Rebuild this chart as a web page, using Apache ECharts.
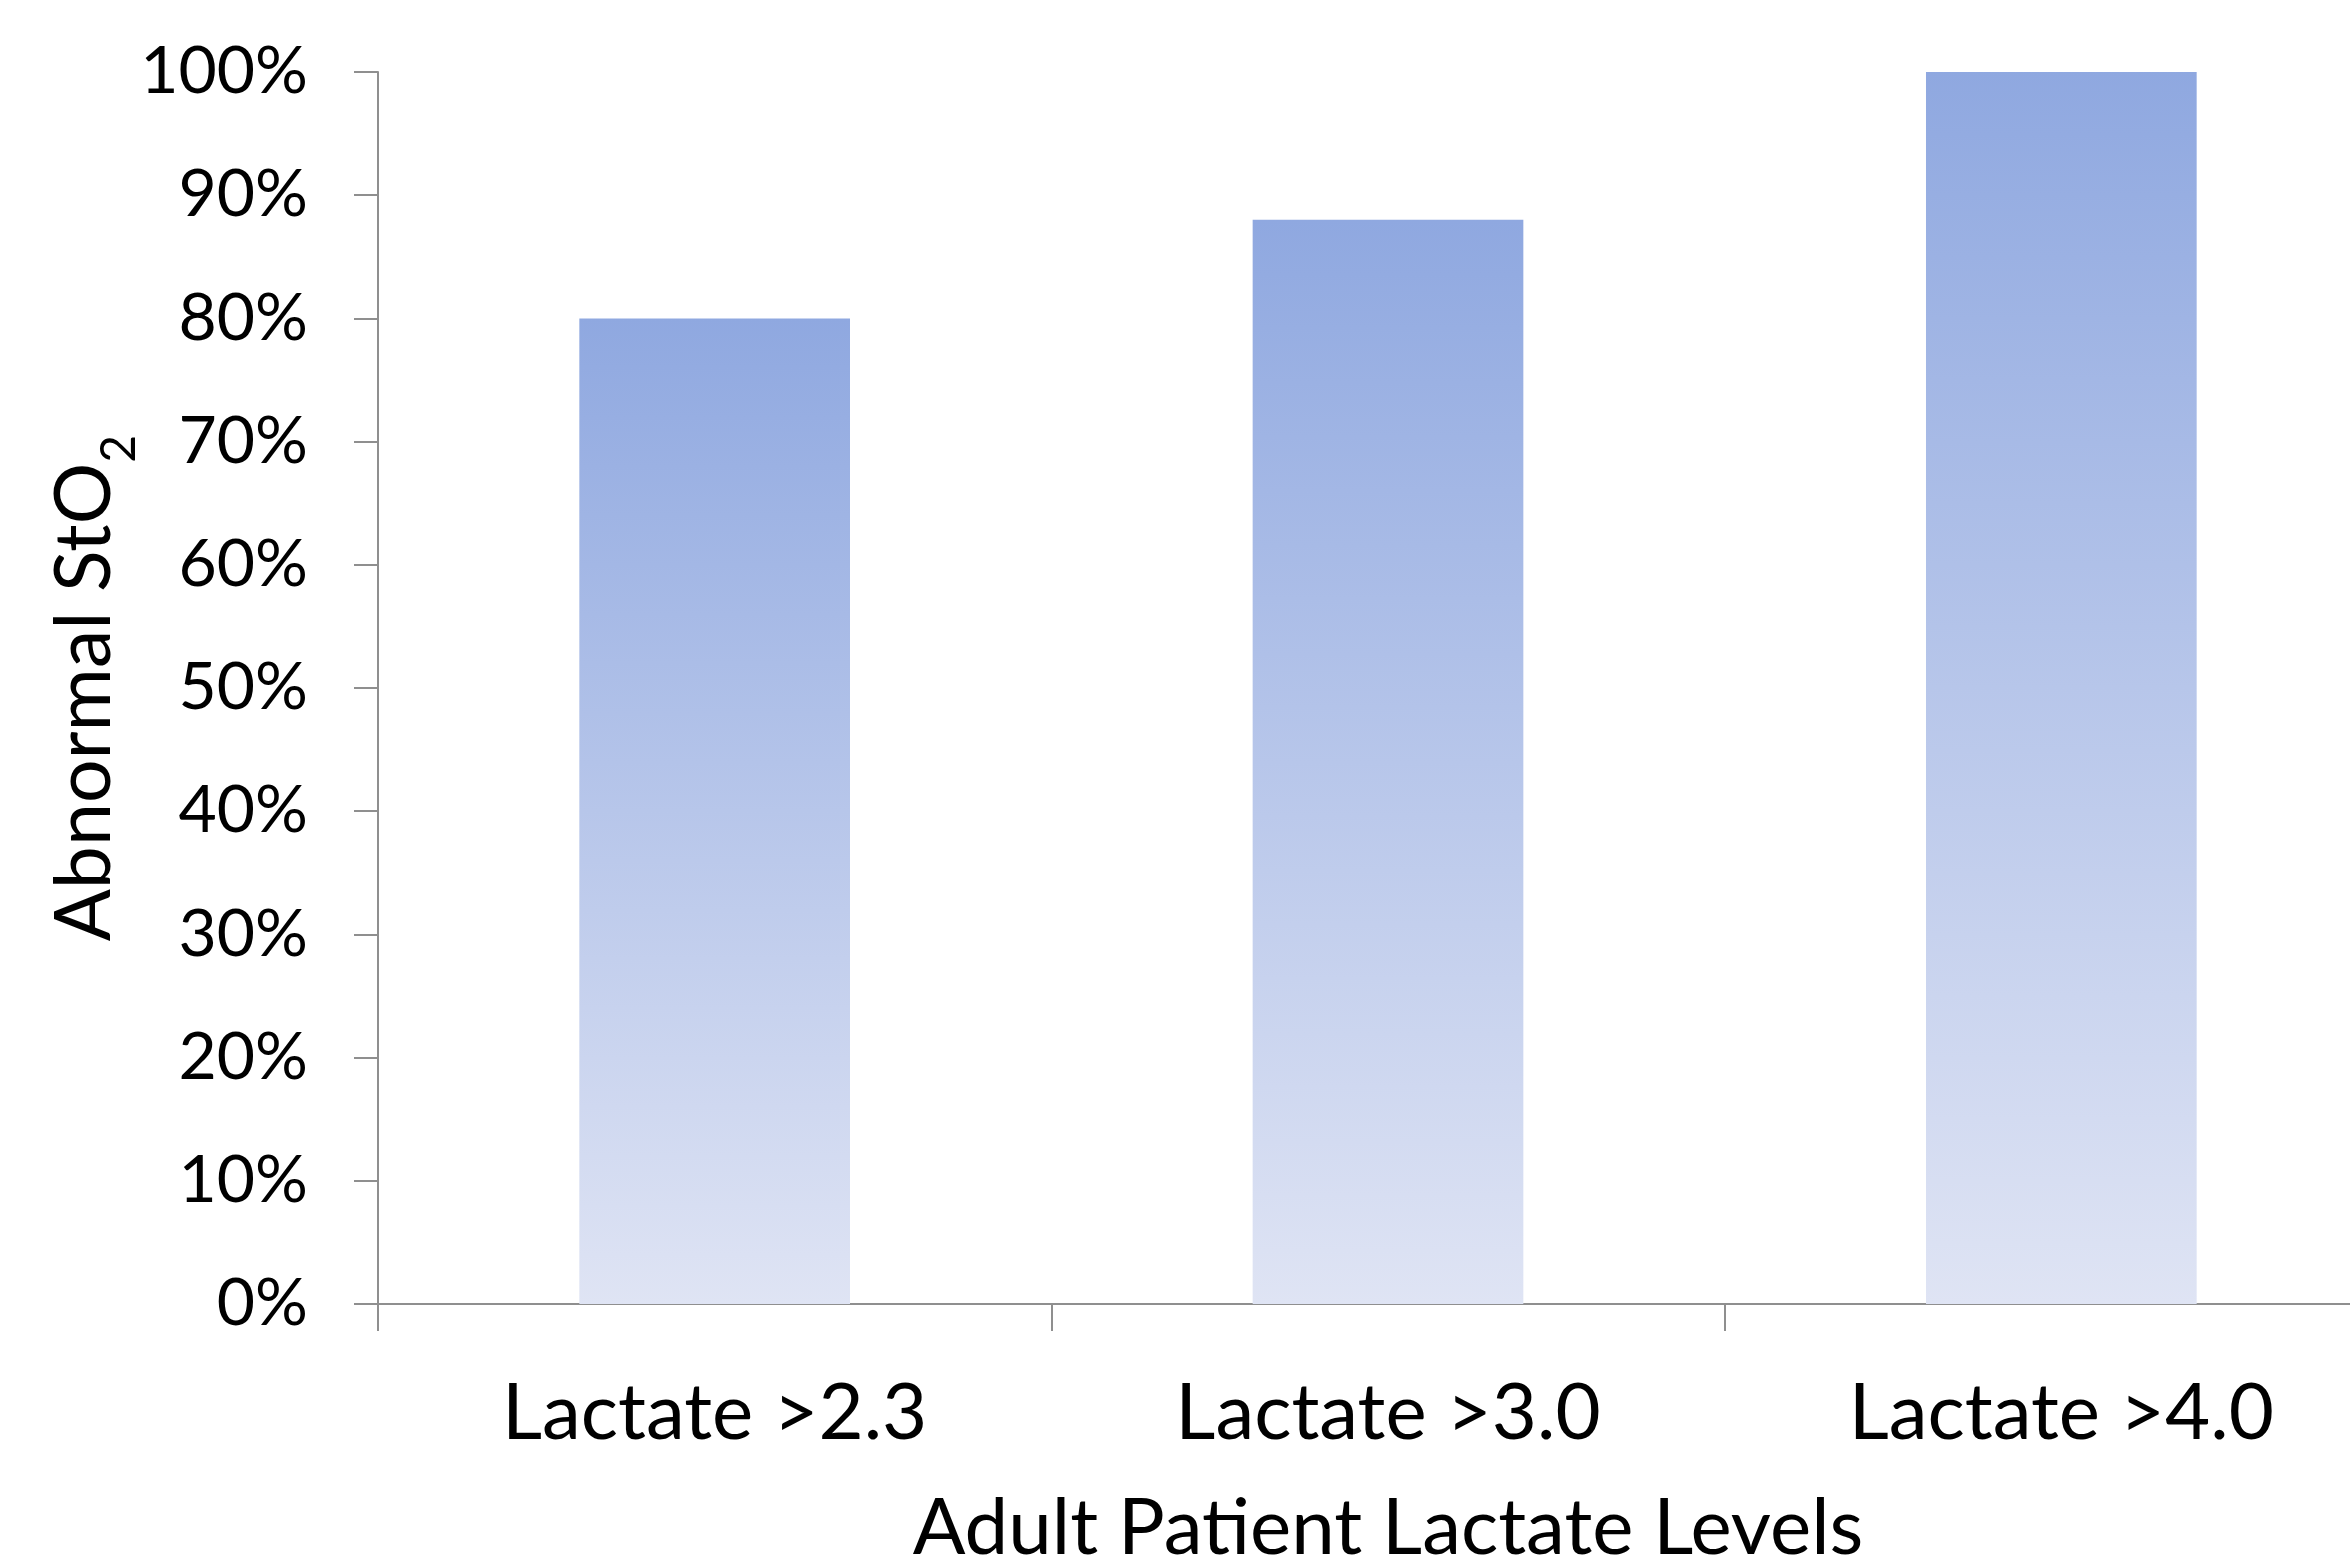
<!DOCTYPE html>
<html>
<head>
<meta charset="utf-8">
<script src="https://cdn.jsdelivr.net/npm/echarts@6/dist/echarts.min.js"></script>
<style>
  html, body { margin: 0; padding: 0; background: #ffffff; }
  #chart { width: 2350px; height: 1556px; }
</style>
</head>
<body>
<div id="chart"></div>
<script>
const categories = ['Lactate >2.3', 'Lactate >3.0', 'Lactate >4.0'];
const abnormalSto2 = [0.80, 0.88, 1.00];
const yTicks = [0, 0.1, 0.2, 0.3, 0.4, 0.5, 0.6, 0.7, 0.8, 0.9, 1.0];
const xTitle = 'Adult Patient Lactate Levels';
const yTitleMain = 'Abnormal StO';
const yTitleSub = '2';

const FONT = 'Lato';
const axisColor = '#8f8f8f';

const chart = echarts.init(document.getElementById('chart'), null, { renderer: 'canvas' });
chart.setOption({
  animation: false,
  backgroundColor: '#ffffff',
  grid: { left: 378, top: 72, right: -48, bottom: 252, containLabel: false, outerBoundsMode: 'none' },
  xAxis: {
    type: 'category',
    data: categories,
    boundaryGap: true,
    nameMoveOverlap: false,
    axisLine: { show: true, lineStyle: { color: axisColor, width: 2 } },
    axisTick: { show: true, inside: false, length: 27, alignWithLabel: false, lineStyle: { color: axisColor, width: 2 } },
    axisLabel: { color: '#000', fontFamily: FONT, fontSize: 78, margin: 71, interval: 0 },
    name: xTitle,
    nameLocation: 'middle',
    nameGap: 186,
    nameTextStyle: { color: '#000', fontFamily: FONT, fontSize: 78 }
  },
  yAxis: {
    type: 'value',
    min: yTicks[0],
    max: yTicks[yTicks.length - 1],
    interval: 0.1,
    nameMoveOverlap: false,
    splitLine: { show: false },
    axisLine: { show: true, lineStyle: { color: axisColor, width: 2 } },
    axisTick: { show: true, inside: false, length: 24, lineStyle: { color: axisColor, width: 2 } },
    axisLabel: {
      color: '#000', fontFamily: FONT, fontSize: 66, margin: 70,
      formatter: v => Math.round(v * 100) + '%'
    },
    name: '{m|' + yTitleMain + '}{s|' + yTitleSub + '}',
    nameLocation: 'middle',
    nameGap: 254,
    nameRotate: 90,
    nameTextStyle: {
      color: '#000',
      rich: {
        m: { fontFamily: FONT, fontSize: 77, color: '#000' },
        s: { fontFamily: FONT, fontSize: 48, color: '#000', verticalAlign: 'bottom', padding: [0, 0, -20, 0] }
      }
    }
  },
  series: [{
    type: 'bar',
    data: abnormalSto2,
    barWidth: '40.2%',
    itemStyle: {
      color: new echarts.graphic.LinearGradient(0, 0, 0, 1, [
        { offset: 0, color: '#8fa8e0' },
        { offset: 1, color: '#dfe4f4' }
      ])
    }
  }]
});
</script>
</body>
</html>
